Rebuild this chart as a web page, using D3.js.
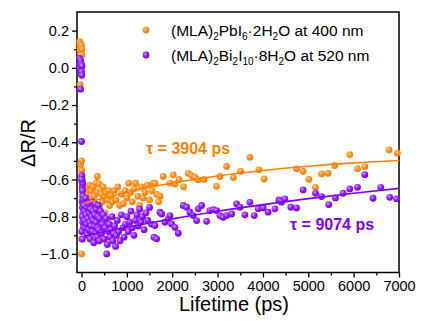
<!DOCTYPE html>
<html><head><meta charset="utf-8">
<script src="https://cdn.jsdelivr.net/npm/d3@7"></script>
<style>body{margin:0;background:#fff}svg{display:block;font-family:Arial,"Liberation Sans",sans-serif}</style>
</head><body><svg id="c" width="422" height="321"></svg>
<script>
const xTicks=[0,1000,2000,3000,4000,5000,6000,7000];
const xMinor=[500,1500,2500,3500,4500,5500,6500];
const yTicks=[0.2,0.0,-0.2,-0.4,-0.6,-0.8,-1.0];
const yMinor=[0.1,-0.1,-0.3,-0.5,-0.7,-0.9];
const pbLabel="at 400 nm", biLabel="at 520 nm";
const pbTau="τ = 3904 ps", biTau="τ = 9074 ps";

// (MLA)2PbI6·2H2O at 400 nm : [time ps, dR/R]
const pbPoints=[
[-40,0.14],[-35,0.12],[-30,0.10],[-25,0.13],[-20,0.08],[-15,0.11],[-10,0.07],[-5,0.09],[0,0.12],[5,0.10],[8,0.07],[-30,-0.09],
[-20,-0.52],[0,-0.50],[5,-0.55],[10,-0.58],[15,-0.62],[20,-0.60],[10,-0.65],[25,-0.66],[0,-0.92],[0,-1.0],[15,-0.70],[30,-0.68],
[40,-0.63],[50,-0.70],[60,-0.66],[80,-0.72],[100,-0.68],[120,-0.74],[140,-0.64],[160,-0.70],[180,-0.63],[200,-0.76],[220,-0.66],
[240,-0.71],[260,-0.64],[280,-0.69],[300,-0.73],[320,-0.62],[348,-0.584],[360,-0.67],[386,-0.624],[400,-0.75],[420,-0.66],[440,-0.68],
[460,-0.72],[480,-0.64],[500,-0.70],[520,-0.78],[540,-0.67],[568,-0.82],[580,-0.71],[600,-0.66],[620,-0.74],[650,-0.69],[680,-0.72],
[120,-0.79],[200,-0.82],[165,-0.90],[300,-0.77],
[720,-0.66],[760,-0.71],[800,-0.64],[840,-0.74],[880,-0.68],[920,-0.73],[960,-0.66],[1000,-0.70],[1040,-0.62],[1080,-0.67],[1120,-0.72],
[1160,-0.65],[1194,-0.62],[1240,-0.69],[1280,-0.74],[1320,-0.64],[1360,-0.70],[1400,-0.67],[1450,-0.63],[1500,-0.71],[1550,-0.66],
[1582,-0.62],[1619,-0.62],[1657,-0.68],[1700,-0.72],[1730,-0.69],[1802,-0.584],
[1950,-0.620],[2022,-0.575],[2060,-0.624],[2150,-0.60],[2250,-0.64],[2353,-0.567],[2428,-0.579],[2500,-0.588],[2573,-0.602],[2700,-0.60],
[2978,-0.637],[3051,-0.584],[3200,-0.53],[3350,-0.59],[3507,-0.557],[3712,-0.481],[3910,-0.548],[4027,-0.597],[4741,-0.543],[4886,-0.556],
[5012,-0.600],[5159,-0.642],[5292,-0.570],[5437,-0.567],[5585,-0.525],[5915,-0.466],[6085,-0.543],[6246,-0.531],[6781,-0.441],[6966,-0.459]
];
// (MLA)2Bi2I10·8H2O at 520 nm
const biPoints=[
[-40,0.05],[-35,0.03],[-30,0.01],[-25,-0.01],[-20,0.04],[-15,-0.03],[-10,0.00],[-5,0.02],[0,-0.02],[5,-0.04],[10,0.01],[-20,-0.115],[0,-0.396],
[5,-0.58],[10,-0.61],[15,-0.64],[20,-0.66],[25,-0.62],[30,-0.69],[10,-0.72],[20,-0.75],[30,-0.78],[15,-0.80],[25,-0.83],[35,-0.86],[40,-0.71],[0,-0.60],[5,-0.88],[20,-0.92],
[50,-0.74],[60,-0.82],[70,-0.77],[80,-0.86],[90,-0.70],[100,-0.79],[110,-0.84],[120,-0.75],[130,-0.90],[140,-0.81],[150,-0.73],[160,-0.87],
[170,-0.78],[180,-0.83],[190,-0.92],[200,-0.76],[210,-0.85],[220,-0.80],[230,-0.72],[240,-0.88],[250,-0.82],[260,-0.77],[270,-0.94],[280,-0.85],
[290,-0.79],[300,-0.73],[310,-0.89],[320,-0.83],[330,-0.76],[340,-0.91],[350,-0.86],[360,-0.80],[370,-0.74],[380,-0.87],[390,-0.93],[400,-0.81],
[420,-0.77],[440,-0.89],[460,-0.84],[480,-0.79],[500,-0.92],[520,-0.86],[540,-0.81],[555,-1.0],[570,-0.95],[590,-0.88],[610,-0.84],[630,-0.91],
[650,-0.87],[670,-0.80],[690,-0.93],[710,-0.89],[730,-0.85],[750,-0.96],[770,-0.90],[790,-0.82],
[820,-0.88],[850,-0.93],[880,-0.79],[910,-0.86],[940,-0.91],[970,-0.84],[1000,-0.80],[1030,-0.88],[1060,-0.83],[1090,-0.77],[1120,-0.86],
[1157,-0.90],[1190,-0.82],[1220,-0.79],[1250,-0.85],[1280,-0.76],[1310,-0.83],[1340,-0.80],[1380,-0.87],[1420,-0.78],[1460,-0.82],[1500,-0.75],
[1540,-0.84],[1597,-0.91],[1619,-0.848],[1657,-0.919],
[1729,-0.776],[1767,-0.785],[1840,-0.830],[1912,-0.812],[1950,-0.794],[1987,-0.839],[2060,-0.857],[2133,-0.889],[2243,-0.740],[2318,-0.749],
[2390,-0.776],[2463,-0.794],[2538,-0.821],[2573,-0.758],[2648,-0.740],[2758,-0.825],[2831,-0.767],[2904,-0.762],[2978,-0.767],[3051,-0.794],
[3124,-0.803],[3199,-0.794],[3309,-0.785],[3419,-0.731],[3492,-0.749],[3602,-0.790],[3712,-0.723],[3807,-0.794],[3895,-0.758],[4005,-0.753],
[4115,-0.776],[4263,-0.758],[4351,-0.710],[4373,-0.713],[4410,-0.722],[4483,-0.704],[4615,-0.749],[4741,-0.753],[4886,-0.656],[5159,-0.674],
[5292,-0.692],[5452,-0.735],[5599,-0.699],[5768,-0.674],[5915,-0.651],[6085,-0.642],[6246,-0.574],[6428,-0.701],[6598,-0.642],[6796,-0.696],[6944,-0.704]
];
// fitted curves
const pbFit=[[50,-0.728],[500,-0.700],[1000,-0.669],[1500,-0.642],[2000,-0.619],[3000,-0.581],[4000,-0.552],[5000,-0.529],[6000,-0.511],[7000,-0.498]];
const biFit=[[50,-0.904],[500,-0.881],[1000,-0.857],[1500,-0.834],[2000,-0.812],[3000,-0.771],[4000,-0.735],[5000,-0.703],[6000,-0.674],[7000,-0.648]];

const ORANGE="#FF8000", PURPLE="#8000FF";
const svg=d3.select("#c");
const L=77,R=399,T=12,B=272.5;
const x=d3.scaleLinear().domain([-100,7000]).range([L,R]);
const y=d3.scaleLinear().domain([-1.1,0.3]).range([B,T]);

const defs=svg.append("defs");
function grad(id,c){
  const g=defs.append("radialGradient").attr("id",id).attr("cx","38%").attr("cy","35%").attr("r","65%");
  g.append("stop").attr("offset","0%").attr("stop-color",d3.interpolateRgb(c,"#fff")(0.6));
  g.append("stop").attr("offset","55%").attr("stop-color",d3.interpolateRgb(c,"#fff")(0.1));
  g.append("stop").attr("offset","100%").attr("stop-color",c);
}
grad("gO",ORANGE); grad("gP",PURPLE);

// axes
const fmtY=d=>(d<0?"−":"")+Math.abs(d).toFixed(1);
const xAxis=d3.axisBottom(x).tickValues(xTicks).tickSize(5).tickPadding(3).tickFormat(d3.format("d"));
const yAxis=d3.axisLeft(y).tickValues(yTicks).tickSize(5).tickPadding(3).tickFormat(fmtY);
const gx=svg.append("g").attr("transform",`translate(0,${B})`).call(xAxis);
const gy=svg.append("g").attr("transform",`translate(${L},0)`).call(yAxis);
svg.append("g").attr("transform",`translate(0,${B})`).call(d3.axisBottom(x).tickValues(xMinor).tickSize(3).tickFormat(""));
svg.append("g").attr("transform",`translate(${L},0)`).call(d3.axisLeft(y).tickValues(yMinor).tickSize(3).tickFormat(""));
svg.selectAll(".domain").remove();
svg.selectAll(".tick line").attr("stroke","#000").attr("stroke-width",1.3);
gx.selectAll("text").attr("font-size",14.5).attr("fill","#000").attr("font-family","Arial,'Liberation Sans',sans-serif");
gy.selectAll("text").attr("font-size",14.5).attr("fill","#000").attr("font-family","Arial,'Liberation Sans',sans-serif");

// frame
svg.append("rect").attr("x",L).attr("y",T).attr("width",R-L).attr("height",B-T)
  .attr("fill","none").attr("stroke","#000").attr("stroke-width",1.5);

// points
svg.append("g").selectAll("circle").data(pbPoints).join("circle")
  .attr("cx",d=>x(d[0])).attr("cy",d=>y(d[1])).attr("r",3.4).attr("fill","url(#gO)");
svg.append("g").selectAll("circle").data(biPoints).join("circle")
  .attr("cx",d=>x(d[0])).attr("cy",d=>y(d[1])).attr("r",3.4).attr("fill","url(#gP)");

// fits
const line=d3.line().x(d=>x(d[0])).y(d=>y(d[1])).curve(d3.curveMonotoneX);
svg.append("path").datum(pbFit).attr("d",line).attr("fill","none").attr("stroke",ORANGE).attr("stroke-width",1.6);
svg.append("path").datum(biFit).attr("d",line).attr("fill","none").attr("stroke",PURPLE).attr("stroke-width",1.6);

// axis titles
svg.append("text").attr("x",(175+293)/2).attr("y",311).attr("text-anchor","middle").attr("font-size",20).text("Lifetime (ps)");
svg.append("text").attr("transform","translate(35,143) rotate(-90)").attr("text-anchor","middle").attr("font-size",20).text("ΔR/R");

// legend
function legendText(yy,parts){
  const t=svg.append("text").attr("x",171).attr("y",yy).attr("font-size",15.5).attr("fill","#000");
  let shifted=false;
  parts.forEach(p=>{
    const ts=t.append("tspan").text(p.s);
    if(p.sub){ts.attr("font-size",10).attr("dy",shifted?0:4);shifted=true;}
    else{ if(shifted){ts.attr("dy",-4);} shifted=false; }
  });
}
svg.append("circle").attr("cx",146).attr("cy",30).attr("r",3.4).attr("fill","url(#gO)");
svg.append("circle").attr("cx",146).attr("cy",55).attr("r",3.4).attr("fill","url(#gP)");
legendText(36,[{s:"(MLA)"},{s:"2",sub:1},{s:"PbI"},{s:"6",sub:1},{s:"·2H"},{s:"2",sub:1},{s:"O "+pbLabel}]);
legendText(61,[{s:"(MLA)"},{s:"2",sub:1},{s:"Bi"},{s:"2",sub:1},{s:"I"},{s:"10",sub:1},{s:"·8H"},{s:"2",sub:1},{s:"O "+biLabel}]);

// tau annotations
svg.append("text").attr("x",146).attr("y",154).attr("font-size",16).attr("font-weight","bold").attr("fill",ORANGE).text(pbTau);
svg.append("text").attr("x",290).attr("y",230).attr("font-size",16).attr("font-weight","bold").attr("fill",PURPLE).text(biTau);
</script></body></html>
